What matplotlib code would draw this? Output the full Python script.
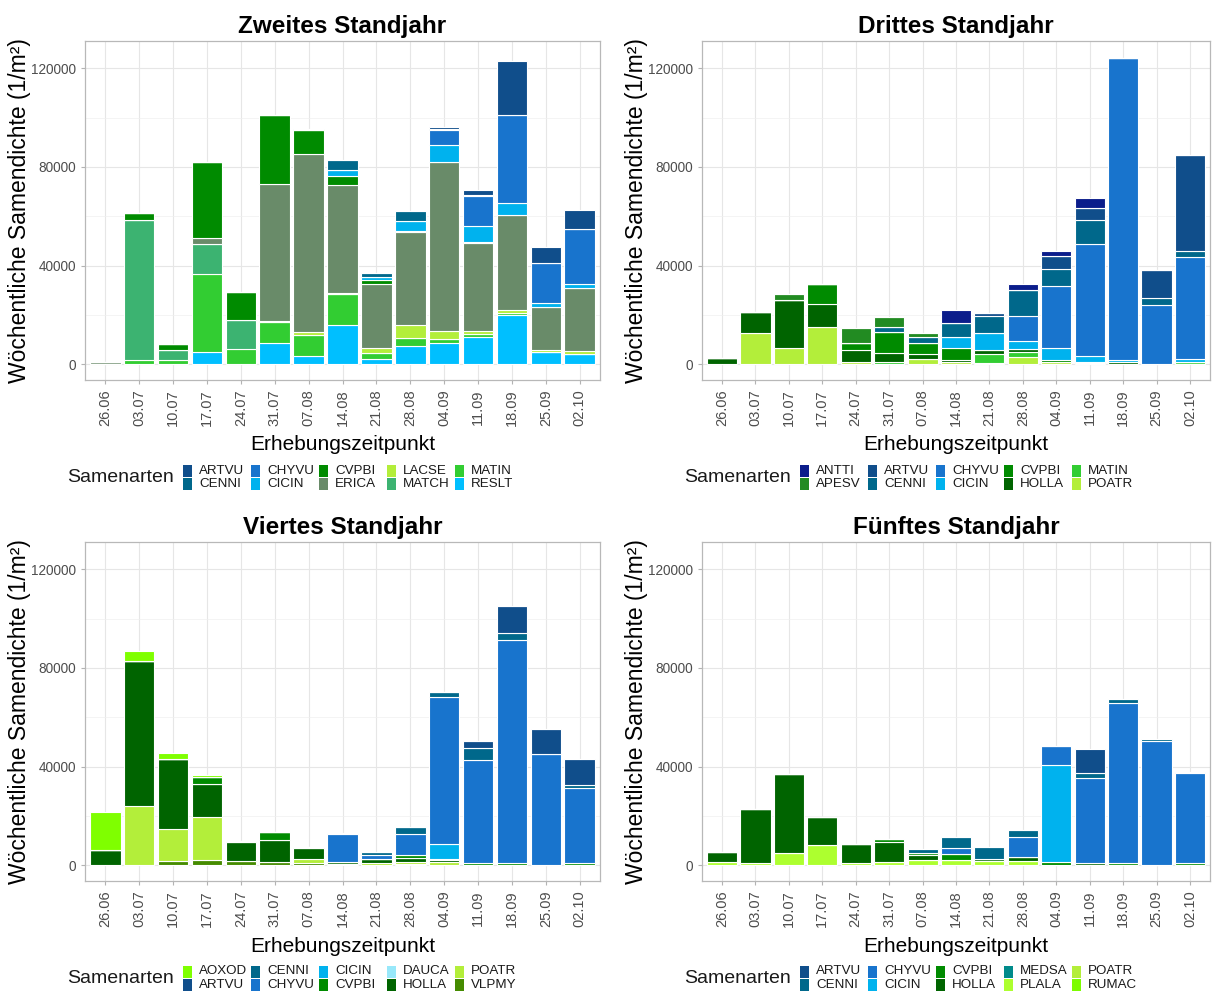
import matplotlib
matplotlib.use("Agg")
import matplotlib.pyplot as plt
from matplotlib.patches import Rectangle
import numpy as np

plt.rcParams['font.family'] = ['Liberation Sans', 'DejaVu Sans']

dates = ["26.06", "03.07", "10.07", "17.07", "24.07", "31.07", "07.08", "14.08",
         "21.08", "28.08", "04.09", "11.09", "18.09", "25.09", "02.10"]

titles = ["Zweites Standjahr", "Drittes Standjahr", "Viertes Standjahr", "Fünftes Standjahr"]

# values per species (index = date); species listed alphabetically (legend order)
jahr2 = {
    "ARTVU": [0, 0, 0, 0, 0, 0, 0, 0, 0, 0, 600, 2200, 21600, 6650, 7900],
    "CENNI": [0, 0, 0, 0, 0, 0, 500, 4000, 1700, 3800, 600, 500, 0, 0, 0],
    "CHYVU": [0, 0, 0, 0, 0, 0, 0, 0, 0, 0, 6100, 12200, 35700, 16200, 22200],
    "CICIN": [0, 0, 0, 0, 0, 0, 0, 2200, 1000, 4000, 6900, 6200, 5000, 1650, 1500],
    "CVPBI": [0, 2800, 2400, 30700, 11400, 28000, 9500, 3800, 1700, 700, 0, 600, 0, 0, 0],
    "ERICA": [900, 0, 0, 2500, 0, 55400, 72300, 43900, 25800, 37500, 68400, 35600, 38300, 17350, 25500],
    "LACSE": [0, 0, 0, 0, 0, 400, 1100, 400, 2300, 5400, 3000, 1200, 1100, 650, 1350],
    "MATCH": [0, 56400, 3800, 12000, 12000, 0, 0, 0, 0, 0, 0, 0, 0, 0, 0],
    "MATIN": [0, 2000, 2000, 31500, 6100, 8800, 8500, 12300, 2100, 3100, 2000, 1300, 1000, 0, 0],
    "RESLT": [0, 0, 0, 5150, 0, 8500, 3400, 16100, 2400, 7450, 8500, 11000, 20000, 5150, 4200],
}
jahr3 = {
    "ANTTI": [0, 0, 0, 0, 0, 0, 0, 5400, 0, 2400, 1800, 4000, 0, 0, 0],
    "APESV": [0, 0, 2700, 0, 5800, 3800, 1600, 0, 0, 0, 0, 0, 0, 0, 0],
    "ARTVU": [0, 0, 0, 0, 0, 0, 0, 0, 1400, 0, 5400, 4800, 0, 11200, 39200],
    "CENNI": [0, 0, 0, 0, 0, 2000, 2700, 5400, 6800, 10600, 6800, 9900, 0, 3000, 2300],
    "CHYVU": [0, 0, 0, 0, 0, 0, 0, 0, 0, 10000, 25300, 45300, 122300, 24100, 41100],
    "CICIN": [0, 0, 0, 0, 0, 0, 0, 4700, 7000, 3400, 4700, 2300, 1000, 0, 1300],
    "CVPBI": [0, 0, 0, 8000, 3000, 8800, 4100, 4700, 0, 0, 1000, 500, 0, 0, 0],
    "HOLLA": [2700, 8500, 19400, 9200, 5000, 3400, 2000, 1000, 1600, 1100, 0, 0, 800, 0, 0],
    "MATIN": [0, 0, 0, 0, 0, 1100, 0, 0, 3600, 2000, 0, 600, 0, 0, 1100],
    "POATR": [0, 12900, 6500, 15300, 800, 0, 2400, 800, 600, 3100, 800, 0, 0, 0, 0],
}
jahr4 = {
    "AOXOD": [15600, 4300, 2700, 700, 0, 0, 0, 0, 0, 0, 0, 0, 0, 0, 0],
    "ARTVU": [0, 0, 0, 0, 0, 0, 0, 0, 0, 0, 0, 2900, 10800, 10000, 10400],
    "CENNI": [0, 0, 0, 0, 0, 0, 0, 300, 1200, 3100, 2000, 4600, 3000, 0, 1300],
    "CHYVU": [0, 0, 0, 0, 0, 0, 0, 11200, 1800, 8400, 59300, 42000, 90100, 45200, 30500],
    "CICIN": [0, 0, 0, 0, 0, 0, 0, 0, 0, 0, 6000, 0, 0, 0, 0],
    "CVPBI": [0, 0, 0, 3000, 400, 3100, 400, 0, 0, 1100, 300, 800, 1100, 0, 800],
    "DAUCA": [0, 0, 0, 0, 0, 0, 0, 0, 0, 0, 300, 0, 0, 0, 0],
    "HOLLA": [6200, 58500, 28200, 13500, 7500, 8800, 4100, 1000, 1500, 1600, 1000, 0, 0, 0, 0],
    "POATR": [0, 24200, 13000, 17300, 0, 0, 2000, 0, 1000, 800, 1200, 0, 0, 0, 0],
    "VLPMY": [0, 0, 1800, 2200, 1800, 1500, 800, 500, 0, 700, 0, 0, 0, 0, 0],
}
jahr5 = {
    "ARTVU": [0, 0, 0, 0, 0, 0, 0, 0, 0, 0, 0, 9800, 0, 0, 0],
    "CENNI": [0, 0, 0, 0, 0, 0, 1300, 4700, 4800, 2900, 0, 2000, 1600, 500, 400],
    "CHYVU": [0, 0, 0, 0, 0, 0, 0, 2300, 0, 7900, 7500, 34500, 65000, 50600, 36800],
    "CICIN": [0, 0, 0, 0, 0, 0, 0, 0, 0, 0, 39500, 0, 0, 0, 0],
    "CVPBI": [0, 0, 0, 0, 0, 1000, 1000, 2200, 0, 0, 1200, 0, 800, 0, 800],
    "HOLLA": [4200, 21900, 31800, 11500, 7400, 8250, 2000, 0, 900, 1600, 0, 800, 0, 0, 0],
    "MEDSA": [0, 0, 0, 0, 0, 0, 0, 0, 0, 0, 0, 0, 0, 0, 0],
    "PLALA": [1200, 800, 5100, 8300, 1100, 1350, 2200, 2400, 1900, 1900, 0, 0, 0, 0, 0],
    "POATR": [0, 0, 0, 0, 0, 0, 0, 0, 0, 0, 0, 0, 0, 0, 0],
    "RUMAC": [0, 0, 0, 0, 0, 0, 0, 0, 0, 0, 0, 0, 0, 0, 0],
}

colors = {
    "ARTVU": "#104E8B", "CENNI": "#00688B", "CHYVU": "#1874CD", "CICIN": "#00B2EE",
    "RESLT": "#00BFFF", "CVPBI": "#008B00", "ERICA": "#698B69", "LACSE": "#B3EE3A",
    "MATCH": "#3CB371", "MATIN": "#32CD32", "ANTTI": "#0B1D8B", "APESV": "#228B22",
    "HOLLA": "#006400", "POATR": "#B3EE3A", "AOXOD": "#7FFF00", "DAUCA": "#98E8FA",
    "VLPMY": "#458B00", "MEDSA": "#008B8B", "PLALA": "#ADFF2F", "RUMAC": "#7CFC00",
}

W, H = 1227, 1002
fig = plt.figure(figsize=(W / 100, H / 100), dpi=100)


def rect(l, t, r, b):
    return [l / W, 1 - b / H, (r - l) / W, (b - t) / H]


panels = [(85, 41, 600, 380), (702, 41, 1210, 380), (85, 542, 600, 881), (702, 542, 1210, 881)]
datasets = [jahr2, jahr3, jahr4, jahr5]

x = np.arange(1, len(dates) + 1)
for (l, t, r, b), data, title in zip(panels, datasets, titles):
    ax = fig.add_axes(rect(l, t, r, b))
    species = list(data.keys())
    bottom = np.zeros(len(dates))
    # ggplot stacks first level on top -> draw from last to first
    for sp in reversed(species):
        vals = np.array(data[sp], dtype=float)
        ax.bar(x, vals, bottom=bottom, width=0.9, color=colors[sp],
               edgecolor="white", linewidth=0.8, zorder=3)
        bottom += vals
    ax.set_xlim(0.4, len(dates) + 0.6)
    ax.set_ylim(-6300, 131000)
    ax.set_yticks([0, 40000, 80000, 120000])
    ax.set_yticks([20000, 60000, 100000], minor=True)
    ax.set_yticklabels(["0", "40000", "80000", "120000"])
    ax.set_xticks(x)
    ax.set_xticklabels(dates, rotation=90, fontsize=10.5)
    ax.grid(True, which="major", color="#E6E6E6", linewidth=0.8, zorder=0)
    ax.grid(True, which="minor", axis="y", color="#F0F0F0", linewidth=0.5, zorder=0)
    ax.set_axisbelow(True)
    for s in ax.spines.values():
        s.set_color("#B8B8B8")
        s.set_linewidth(0.9)
    ax.tick_params(axis="both", which="major", colors="#B3B3B3", length=3, width=0.8,
                   labelcolor="#4D4D4D")
    ax.tick_params(axis="y", which="major", labelsize=9.8)
    ax.tick_params(axis="y", which="minor", length=0)
    ax.set_title(title, fontsize=17.5, fontweight="bold", pad=6)
    ax.set_ylabel("Wöchentliche Samendichte (1/m²)", fontsize=16.5)
    ax.yaxis.set_label_coords(-54 / (r - l), 0.5)
    ax.set_xlabel("Erhebungszeitpunkt", fontsize=15, labelpad=7)

    # legend (ggplot style: title left, 2 rows x 5 columns, filled column-wise)
    kx0 = l + 98
    pitch = 68
    kw, kh = 9, 12
    rows = [b + 90.5, b + 104]
    for i, sp in enumerate(species):
        col, row = divmod(i, 2)
        kx = kx0 + col * pitch
        cy = rows[row]
        fig.add_artist(Rectangle((kx / W, 1 - (cy + kh / 2) / H), kw / W, kh / H,
                                 transform=fig.transFigure, facecolor=colors[sp],
                                 edgecolor="none"))
        fig.text((kx + 16) / W, 1 - cy / H, sp, fontsize=9.6, ha="left", va="center",
                 color="#1A1A1A")
    fig.text((kx0 - 9) / W, 1 - (b + 97.5) / H, "Samenarten", fontsize=14,
             ha="right", va="center", color="#1A1A1A")

fig.savefig("out.png", dpi=100)
